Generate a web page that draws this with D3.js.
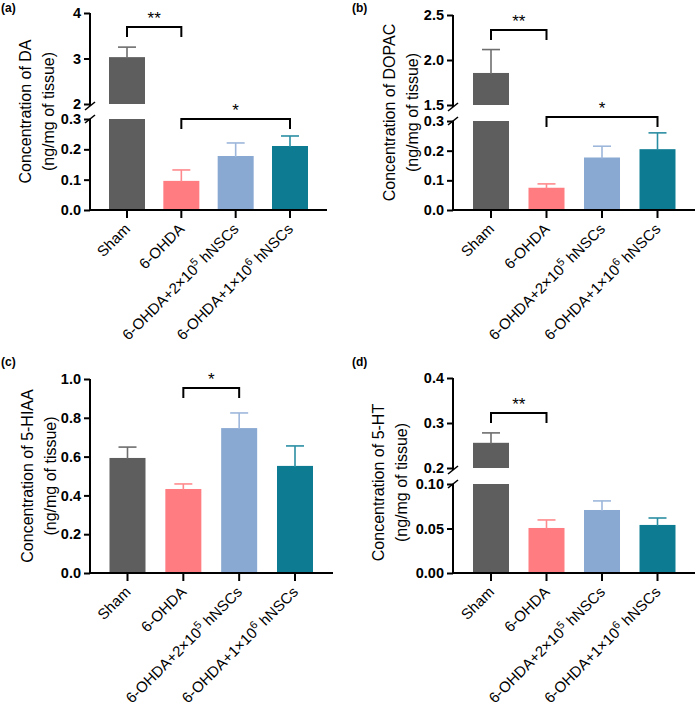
<!DOCTYPE html>
<html><head><meta charset="utf-8">
<script src="https://cdn.jsdelivr.net/npm/d3@7"></script>
<style>body{margin:0;background:#fff}svg{font-family:"Liberation Sans",Arial,sans-serif}</style>
</head><body><svg id="c" width="697" height="705"></svg>
<script>
// ---------- DATA ----------
const categories = ["Sham", "6-OHDA", "6-OHDA+2×10", "6-OHDA+1×10"];
const catExponents = ["", "", "5", "6"];
const catSuffix = ["", "", " hNSCs", " hNSCs"];
const colors = ["#5e5e5e", "#ff7c80", "#8aa9d2", "#0d7c93"];
const errColors = ["#6e6e6e", "#ff8a8d", "#9db7db", "#2a8ea3"];

const daMean = [3.03, 0.096, 0.178, 0.211];
const daSem = [0.22, 0.036, 0.043, 0.033];
const dopacMean = [1.856, 0.075, 0.177, 0.205];
const dopacSem = [0.26, 0.013, 0.038, 0.055];
const hiaaMean = [0.593, 0.433, 0.747, 0.552];
const hiaaSem = [0.056, 0.026, 0.078, 0.103];
const htMean = [0.256, 0.0506, 0.0708, 0.054];
const htSem = [0.022, 0.009, 0.0102, 0.0078];

const daTicksLow = [0, 0.1, 0.2, 0.3], daTicksHigh = [2, 3, 4];
const dopacTicksLow = [0, 0.1, 0.2, 0.3], dopacTicksHigh = [1.5, 2.0, 2.5];
const hiaaTicks = [0, 0.2, 0.4, 0.6, 0.8, 1.0];
const htTicksLow = [0, 0.05, 0.10], htTicksHigh = [0.2, 0.3, 0.4];

// ---------- DRAW ----------
const svg = d3.select("#c");

function panel(cfg) {
  const g = svg.append("g");
  const x = d3.scalePoint().domain(categories).range(cfg.xr);
  const bw = 36;
  const segs = cfg.segs.map(s => ({...s, y: d3.scaleLinear().domain(s.domain).range(s.range)}));
  const low = segs[0];

  // bars
  categories.forEach((c, i) => {
    const v = cfg.mean[i], e = cfg.sem[i];
    segs.forEach((s, si) => {
      const [d0, d1] = s.domain;
      if (v <= d0) return;
      const top = Math.min(v, d1);
      g.append("rect").attr("x", x(c) - bw / 2).attr("width", bw)
        .attr("y", s.y(top)).attr("height", s.y(d0) - s.y(top))
        .attr("fill", colors[i]);
      if (v <= d1) {
        g.append("line").attr("x1", x(c)).attr("x2", x(c))
          .attr("y1", s.y(v) + 1).attr("y2", s.y(v + e))
          .attr("stroke", errColors[i]).attr("stroke-width", 1.6);
        g.append("line").attr("x1", x(c) - 9).attr("x2", x(c) + 9)
          .attr("y1", s.y(v + e)).attr("y2", s.y(v + e))
          .attr("stroke", errColors[i]).attr("stroke-width", 1.6);
      }
    });
  });

  // y axis segments
  segs.forEach((s, si) => {
    const ax = g.append("g").attr("transform", `translate(${cfg.ax},0)`)
      .call(d3.axisLeft(s.y).tickValues(s.ticks).tickFormat(d3.format(s.fmt)).tickSize(6).tickSizeOuter(0).tickPadding(3));
    ax.select(".domain").attr("stroke-width", 2).attr("d", `M0,${s.range[0] + (si === 0 ? 0 : 2)}V${s.range[1]}`);
    ax.selectAll(".tick line").attr("stroke-width", 2);
    ax.selectAll(".tick text").attr("font-size", 14.5).attr("font-weight", "bold").attr("fill", "#000");
    if (segs.length > 1) {
      const yb = si === 0 ? s.range[1] : s.range[0] + 2;
      g.append("line").attr("x1", cfg.ax - 5).attr("x2", cfg.ax + 5)
        .attr("y1", yb + 4).attr("y2", yb - 4).attr("stroke", "#000").attr("stroke-width", 1.6);
    }
  });

  // x axis
  const y0 = low.y(0);
  g.append("line").attr("x1", cfg.ax - 1).attr("x2", cfg.xEnd).attr("y1", y0).attr("y2", y0)
    .attr("stroke", "#000").attr("stroke-width", 2);
  categories.forEach((c, i) => {
    g.append("line").attr("x1", x(c)).attr("x2", x(c)).attr("y1", y0).attr("y2", y0 + 8)
      .attr("stroke", "#000").attr("stroke-width", 2);
    const t = g.append("text").attr("transform", `translate(${x(c) + 4},${y0 + 20}) rotate(-45)`)
      .attr("text-anchor", "end").attr("font-size", 15).attr("fill", "#000");
    t.append("tspan").text(c);
    if (catExponents[i]) {
      t.append("tspan").attr("font-size", 11).attr("dy", -6).text(catExponents[i]);
      t.append("tspan").attr("dy", 6).text(catSuffix[i]);
    }
  });

  // y label
  const ym = (low.range[0] + segs[segs.length - 1].range[1]) / 2 + cfg.labDy;
  const lab = g.append("text").attr("transform", `translate(${cfg.ax - cfg.labOff},${ym}) rotate(-90)`)
    .attr("text-anchor", "middle").attr("font-size", 16).attr("fill", "#000");
  lab.append("tspan").attr("x", 0).attr("dy", 0).text(cfg.label);
  lab.append("tspan").attr("x", 0).attr("dy", 23).text("(ng/mg of tissue)");

  // significance brackets
  cfg.sig.forEach(s => {
    const xa = x(categories[s.a]), xb = x(categories[s.b]);
    g.append("path").attr("d", `M${xa},${s.y + 10}V${s.y}H${xb}V${s.y + 10}`)
      .attr("fill", "none").attr("stroke", "#000").attr("stroke-width", 2);
    g.append("text").attr("x", (xa + xb) / 2).attr("y", s.y - 3).attr("text-anchor", "middle")
      .attr("font-size", 17).attr("fill", "#000").text(s.t);
  });

  svg.append("text").attr("x", cfg.lx).attr("y", cfg.ly).attr("font-size", 12)
    .attr("font-weight", "bold").attr("fill", "#000").text(cfg.tag);
}

panel({tag: "(a)", lx: 1, ly: 12, ax: 90, xEnd: 327, xr: [127, 290], labOff: 59, labDy: 0,
  mean: daMean, sem: daSem, label: "Concentration of DA",
  segs: [{domain: [0, 0.3], range: [210, 119], ticks: daTicksLow, fmt: ".1f"},
         {domain: [2, 4], range: [104, 13], ticks: daTicksHigh, fmt: "d"}],
  sig: [{a: 0, b: 1, y: 27, t: "**"}, {a: 1, b: 3, y: 119, t: "*"}]});

panel({tag: "(b)", lx: 352, ly: 12, ax: 453, xEnd: 695, xr: [491, 657.5], labOff: 58, labDy: 0,
  mean: dopacMean, sem: dopacSem, label: "Concentration of DOPAC",
  segs: [{domain: [0, 0.3], range: [210, 121], ticks: dopacTicksLow, fmt: ".1f"},
         {domain: [1.5, 2.5], range: [105, 15], ticks: dopacTicksHigh, fmt: ".1f"}],
  sig: [{a: 0, b: 1, y: 30, t: "**"}, {a: 1, b: 3, y: 117, t: "*"}]});

panel({tag: "(c)", lx: 1, ly: 366, ax: 90, xEnd: 333, xr: [127.5, 295], labOff: 57, labDy: 0,
  mean: hiaaMean, sem: hiaaSem, label: "Concentration of 5-HIAA",
  segs: [{domain: [0, 1.0], range: [573, 379], ticks: hiaaTicks, fmt: ".1f"}],
  sig: [{a: 1, b: 2, y: 388, t: "*"}]});

panel({tag: "(d)", lx: 352, ly: 366, ax: 453, xEnd: 695, xr: [491, 657.5], labOff: 69, labDy: 7,
  mean: htMean, sem: htSem, label: "Concentration of 5-HT",
  segs: [{domain: [0, 0.10], range: [573, 484], ticks: htTicksLow, fmt: ".2f"},
         {domain: [0.2, 0.4], range: [468, 378], ticks: htTicksHigh, fmt: ".1f"}],
  sig: [{a: 0, b: 1, y: 413, t: "**"}]});
</script></body></html>
